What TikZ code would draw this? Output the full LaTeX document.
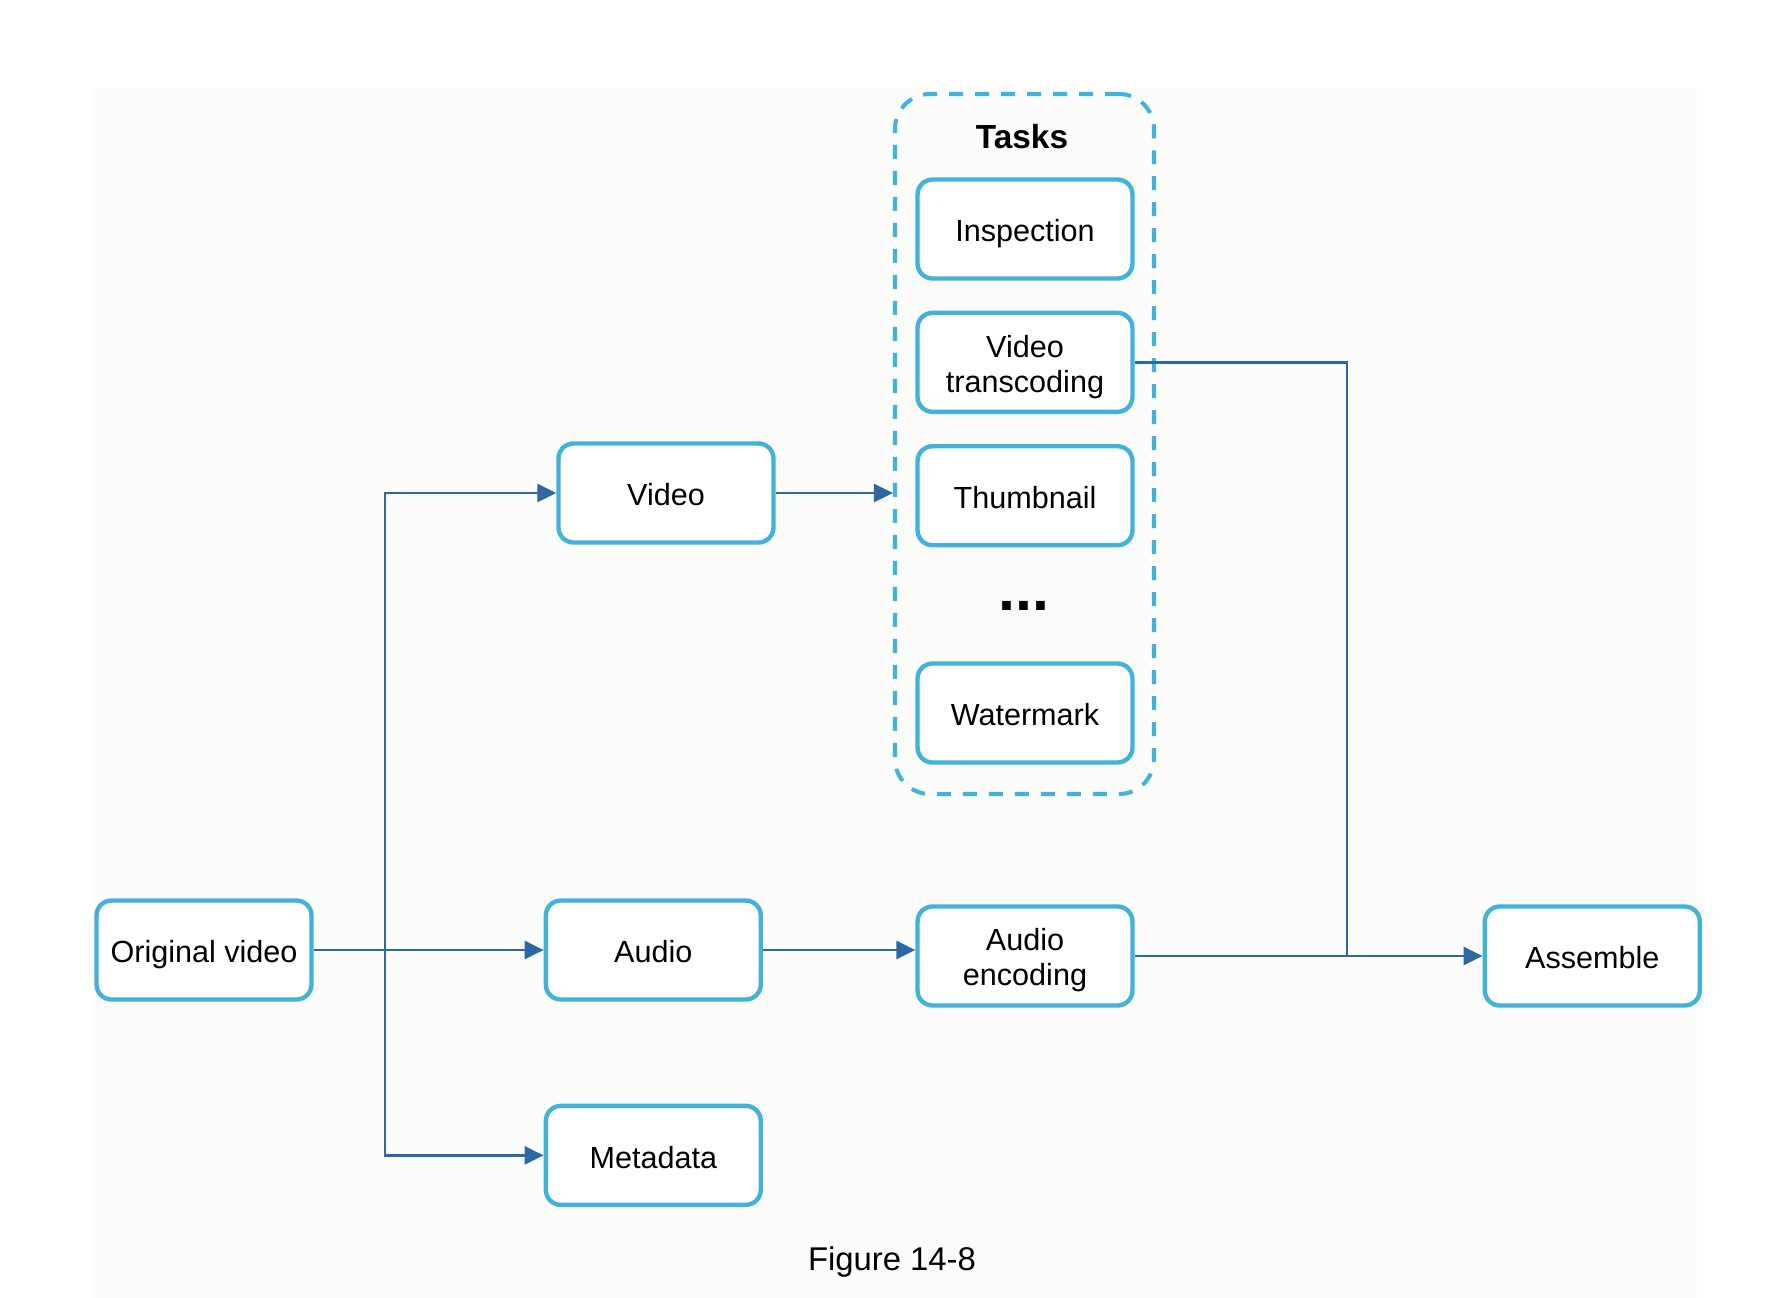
\documentclass[tikz,border=0pt]{standalone}
\usepackage{fontspec}
\setmainfont{Liberation Sans}
\usetikzlibrary{arrows.meta,fit,positioning}
\definecolor{boxblue}{RGB}{66,178,216}
\definecolor{lineblue}{RGB}{46,104,160}
\definecolor{paper}{RGB}{252,252,250}
\tikzset{
    %Define standard arrow tip
    >={Triangle[length=0.38cm,width=0.36cm]},
    %Define style for boxes
    block/.style={
           rectangle,
           rounded corners=0.3cm,
           draw=boxblue, line width=2.5pt,
           fill=white,
           minimum width=4.3cm,
           minimum height=1.98cm,
           text height=14.6pt, text depth=0pt,
           font=\fontsize{17.4}{19.9}\selectfont,
           align=center},
    %Boxes with two lines of text
    blocktwo/.style={
           block,
           text height=33.8pt},
    taskframe/.style={
           rectangle,
           rounded corners=0.7cm,
           draw=boxblue, line width=2.3pt,
           dash pattern=on 0.28cm off 0.24cm,
           inner sep=0pt},
    % Define arrow style
    flow/.style={
           ->,
           draw=lineblue, line width=1.4pt},
    wire/.style={
           draw=lineblue, line width=1.4pt}
}
\begin{document}
\begin{tikzpicture}[x=0.02cm,y=-0.02cm,node distance=0.64cm]
\useasboundingbox (0,0) rectangle (1782,1298);
\fill[paper] (92,88) rectangle (1703,1298);
\node[block] (orig) at (204,950) {Original video};
\node[block, right=4.6cm of orig] (audio) {Audio};
\node[block, below=2.04cm of audio] (meta) {Metadata};
\node[block] (video) at (666,493) {Video};
\node[blocktwo] (aenc) at (1025,956) {Audio\\encoding};
\node[block, right=6.96cm of aenc] (asm) {Assemble};
% tasks column
\node[block] (insp) at (1025,229) {Inspection};
\node[blocktwo, below=0.6cm of insp] (trans) {Video\\transcoding};
\node[block, below=0.6cm of trans] (thumb) {Thumbnail};
\node[font=\bfseries\fontsize{34.7}{36}\selectfont, anchor=base] (dots) at (1024,610) {...};
\node[block] (mark) at (1025,713) {Watermark};
\node[font=\bfseries\fontsize{19}{22}\selectfont, anchor=base] (title) at (1022,148) {Tasks};
\node[taskframe, fit={(895,94) (1154,794)}] (tasks) {};
\node[font=\fontsize{18.7}{22}\selectfont, anchor=base] (caption) at (892,1270) {Figure 14-8};
% connectors
\coordinate (split) at (385,950);
\coordinate (merge) at (1347,956);
\draw[flow] (orig) -- (audio);
\draw[flow] (split) |- (video);
\draw[flow] (split) |- (meta);
\draw[flow] (video) -- (video.east -| tasks.west);
\draw[flow] (audio) -- (audio.east -| aenc.west);
\draw[flow] (aenc) -- (asm);
\draw[wire] (trans.east) -| (merge);
\end{tikzpicture}
\end{document}
